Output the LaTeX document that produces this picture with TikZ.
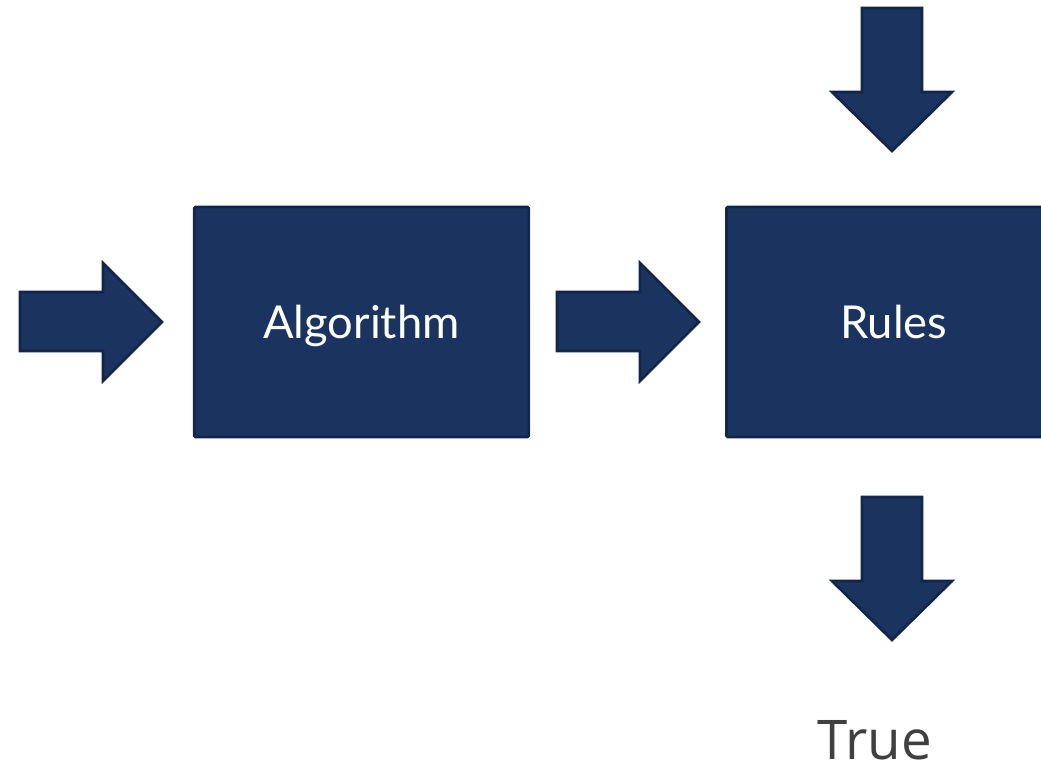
\documentclass[tikz,border=0pt]{standalone}
\usepackage{fontspec}
\setsansfont{Lato}
\newfontfamily\truefont{Open Sans}
\usetikzlibrary{positioning}
\definecolor{navy}{HTML}{1B335F}
\definecolor{navyline}{HTML}{12264B}
\definecolor{txtgray}{HTML}{404040}
\tikzset{
  box/.style = {fill=navy, draw=navyline, line width=2pt, rounded corners=1pt,
    minimum width=251pt, minimum height=172.5pt, inner sep=0pt,
    text height=24pt, text depth=0pt,
    text=white, font=\sffamily\fontsize{34}{40}\selectfont},
  blk/.style = {fill=navy, draw=navyline, line width=2pt, line join=miter},
  rarrow/.pic = {\draw [blk] (0,0) -- (83,0) -- (83,-29) -- (142,30) -- (83,89) -- (83,59) -- (0,59) -- cycle;},
  darrow/.pic = {\draw [blk] (0,0) -- (60,0) -- (60,84) -- (90,84) -- (30,143) -- (-30,84) -- (0,84) -- cycle;},
}

\begin{document}
\begin{tikzpicture}[x=0.75pt, y=-0.75pt]
\useasboundingbox (0,0) rectangle (1041,766);
\clip (0,0) rectangle (1041,766);
% blocks
\node [box] (algo) at (361.5,322) {Algorithm};
\node [box, right=146.25pt of algo] (rules) {Rules};
% block arrows
\pic (inarrow) at (20,292) {rarrow};
\pic (midarrow) at (557,292) {rarrow};
\pic (toparrow) at (862,8) {darrow};
\pic (outarrow) at (862,497) {darrow};
\node [font=\truefont\fontsize{41}{50}\selectfont, text=txtgray, inner sep=0pt, text depth=0pt, anchor=base] (truelbl) at (875,759) {True};
\end{tikzpicture}
\end{document}
